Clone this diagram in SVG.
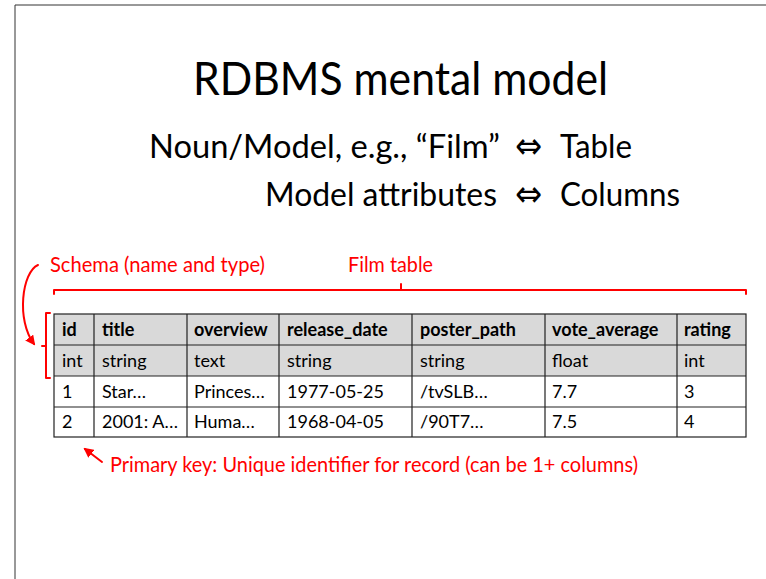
<svg xmlns="http://www.w3.org/2000/svg" width="766" height="579" viewBox="0 0 766 579">
<defs>
<style>
.h{font-family:Lato,"Liberation Sans",sans-serif;fill:#000}
.arr{font-family:"DejaVu Sans",sans-serif;font-size:36px}
.red{font-family:Lato,"Liberation Sans",sans-serif;fill:#ff0000;font-size:21px}
.cell{font-family:Lato,"Liberation Sans",sans-serif;font-size:18px;fill:#000}
.hd{font-weight:bold}
.rl{fill:none;stroke:#ff0000;stroke-width:2;stroke-linecap:round;stroke-linejoin:round}
.grid{stroke:#222;stroke-width:1.2;fill:none}
</style>
<marker id="ah" viewBox="0 0 10 10" refX="8" refY="5" markerWidth="5" markerHeight="5" orient="auto">
<path d="M0,0 L10,5 L0,10 z" fill="#ff0000"/>
</marker>
</defs>
<rect width="766" height="579" fill="#fff"/>
<path d="M15,579 L15,5 L766,5" fill="none" stroke="#333" stroke-width="1"/>

<g id="title">
<text class="h" x="193" y="95" font-size="46" textLength="415" lengthAdjust="spacingAndGlyphs">RDBMS mental model</text>
<text class="h" x="149" y="158" font-size="33" textLength="351" lengthAdjust="spacingAndGlyphs">Noun/Model, e.g., “Film”</text>
<text class="arr" x="515" y="158" textLength="27" lengthAdjust="spacingAndGlyphs">⇔</text>
<text class="h" x="560" y="158" font-size="33" textLength="72" lengthAdjust="spacingAndGlyphs">Table</text>
<text class="h" x="265" y="206" font-size="33" textLength="232" lengthAdjust="spacingAndGlyphs">Model attributes</text>
<text class="arr" x="515" y="206" textLength="27" lengthAdjust="spacingAndGlyphs">⇔</text>
<text class="h" x="560" y="206" font-size="33" textLength="120" lengthAdjust="spacingAndGlyphs">Columns</text>
</g>

<g id="labels">
<text class="red" x="50" y="272" textLength="215" lengthAdjust="spacingAndGlyphs">Schema (name and type)</text>
<text class="red" x="348" y="272" textLength="85" lengthAdjust="spacingAndGlyphs">Film table</text>
<text class="red" x="110" y="472" textLength="528" lengthAdjust="spacingAndGlyphs">Primary key: Unique identifier for record (can be 1+ columns)</text>
</g>

<g id="table">
<rect x="54" y="314" width="692" height="62" fill="#d9d9d9"/>
<rect x="54" y="376" width="692" height="61" fill="#fff"/>
<g class="grid">
<rect x="54" y="314" width="692" height="123"/>
<path d="M54,345 H746 M54,376 H746 M54,407 H746 M94,314 V437 M187,314 V437 M279,314 V437 M412,314 V437 M545,314 V437 M677,314 V437"/>
</g>
<g class="cell hd">
<text x="62" y="336">id</text>
<text x="102" y="336">title</text>
<text x="194" y="336">overview</text>
<text x="287" y="336">release_date</text>
<text x="420" y="336">poster_path</text>
<text x="552" y="336">vote_average</text>
<text x="684" y="336">rating</text>
</g>
<g class="cell">
<text x="62" y="367">int</text>
<text x="102" y="367">string</text>
<text x="194" y="367">text</text>
<text x="287" y="367">string</text>
<text x="420" y="367">string</text>
<text x="552" y="367">float</text>
<text x="684" y="367">int</text>
<text x="62" y="398">1</text>
<text x="102" y="398">Star…</text>
<text x="194" y="398">Princes…</text>
<text x="287" y="398">1977-05-25</text>
<text x="420" y="398">/tvSLB…</text>
<text x="552" y="398">7.7</text>
<text x="684" y="398">3</text>
<text x="62" y="428">2</text>
<text x="102" y="428">2001: A…</text>
<text x="194" y="428">Huma…</text>
<text x="287" y="428">1968-04-05</text>
<text x="420" y="428">/90T7…</text>
<text x="552" y="428">7.5</text>
<text x="684" y="428">4</text>
</g>
</g>

<g id="connectors">
<path class="rl" d="M54,294 V290 H746 V294 M401,290 V284"/>
<path class="rl" d="M50,313 H46 V378 H50 M46,346 H42"/>
<path class="rl" d="M38,265 C22,272 16,320 34,344" marker-end="url(#ah)"/>
<path class="rl" d="M102,462 L85,449" marker-end="url(#ah)"/>
</g>
</svg>
